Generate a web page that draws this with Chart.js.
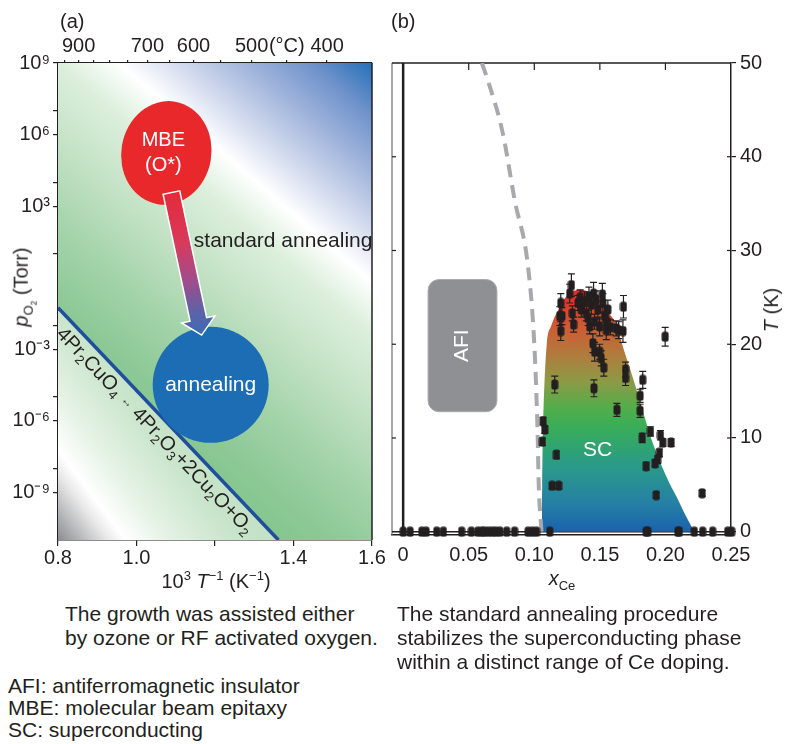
<!DOCTYPE html>
<html lang="en">
<head>
<meta charset="UTF-8">
<meta name="viewport" content="width=device-width, initial-scale=1.0">
<title>Growth window and phase diagram</title>
<script src="https://cdn.jsdelivr.net/npm/chart.js"></script>
<style>
    body { margin: 0; background: #fff; color: #231f20; font-family: 'Liberation Sans', Arial, Helvetica, sans-serif; }
    .page { position: relative; width: 787px; height: 744px; overflow: hidden; }
    canvas { position: absolute; top: 0; }
    #chart-a { left: 0; }
    #chart-b { left: 380px; }
    .lbl { position: absolute; white-space: nowrap; font-size: 20px; line-height: 24px; }
    .ctr { transform: translate(-50%, -50%); }
    .rot { transform: translate(-50%, -50%) rotate(-90deg); }
    .note { position: absolute; white-space: nowrap; font-size: 21px; line-height: 24px; }
    sup, sub { font-size: 65%; line-height: 0; }
</style>
</head>
<body>
<div class="page">
    <canvas id="chart-a" width="390" height="600"></canvas>
    <canvas id="chart-b" width="407" height="600"></canvas>

    <div class="lbl" style="left:60px; top:9px;">(a)</div>
    <div class="lbl" style="left:391px; top:9px;">(b)</div>
    <div class="lbl ctr" style="left:216px; top:581px;">10<sup>3</sup> <i>T</i><sup>−1</sup> (K<sup>−1</sup>)</div>
    <div class="lbl rot" style="left:21px; top:287px;"><i>p</i><sub>O<sub>2</sub></sub> (Torr)</div>
    <div class="lbl ctr" style="left:562px; top:578px;"><i>x</i><sub>Ce</sub></div>
    <div class="lbl rot" style="left:771px; top:310px;"><i>T</i> (K)</div>

    <div class="note" style="left:65px; top:602px;">The growth was assisted either<br>by ozone or RF activated oxygen.</div>
    <div class="note" style="left:397px; top:602px;">The standard annealing procedure<br>stabilizes the superconducting phase<br>within a distinct range of Ce doping.</div>
    <div class="note" style="left:8px; top:675px; line-height:22px;">AFI: antiferromagnetic insulator<br>MBE: molecular beam epitaxy<br>SC: superconducting</div>
</div>
<script>
    // ---------- panel (a): p_O2 vs 10^3/T ----------
    const invT = [0.8, 1.3616];                 // 10^3 T^-1 (K^-1)
    const pLine = [0.055, 1e-11];               // Torr, 4Pr2CuO4 <-> 4Pr2O3+2Cu2O+O2
    const invTTicks = [0.8, 1.0, 1.2, 1.4, 1.6];
    const invTLabels = ['0.8', '1.0', '', '1.4', '1.6'];
    const tempC = [950, 900, 850, 800, 750, 700, 650, 600, 550, 500, 450, 400];
    const tempLabels = ['', '900', '', '', '', '700', '', '600', '', '500', '(°C)', '400'];
    const pTicks = [1e9, 1e7, 1e6, 1e4, 1e3, 1e1, 1e-2, 1e-3, 1e-5, 1e-6, 1e-8, 1e-9];
    const pLabels = ['10⁹', '', '10⁶', '', '10³', '', '', '10⁻³', '', '10⁻⁶', '', '10⁻⁹'];

    // ---------- panel (b): T vs x_Ce ----------
    const xCeTicks = [0, 0.05, 0.10, 0.15, 0.20, 0.25];
    const xCeLabels = ['0', '0.05', '0.10', '0.15', '0.20', '0.25'];
    const tTicks = [0, 10, 20, 30, 40, 50];

    const domeX = [0.1057, 0.1060, 0.1065, 0.1075, 0.1095, 0.113, 0.117, 0.124, 0.1345, 0.145, 0.152, 0.157, 0.163, 0.167, 0.175, 0.1825, 0.189, 0.196, 0.203, 0.209, 0.2155, 0.222];
    const domeT = [0, 5, 10, 15, 20, 22, 23.3, 25, 25.8, 25.3, 24.3, 23.3, 22, 20, 16.5, 13, 10, 7.4, 5.2, 3.6, 1.7, 0];

    const afiX = [0.060, 0.064, 0.076, 0.085, 0.0953, 0.100, 0.1024, 0.1034, 0.1055];
    const afiT = [50, 48.4, 42.5, 35.4, 28.2, 20, 11.2, 5, 0];

    const zeroX = [0, 0.0053, 0.0142, 0.0175, 0.0256, 0.0307, 0.0446, 0.052, 0.057, 0.060, 0.062, 0.065, 0.068, 0.0707, 0.0738, 0.079, 0.085, 0.0953, 0.0985, 0.1017, 0.1118, 0.1853, 0.1866, 0.2094, 0.2106, 0.222, 0.2284, 0.236, 0.2475, 0.2505, 0.2535];

    const scX = [0.1283, 0.1270, 0.1202, 0.1194, 0.1211, 0.1202, 0.1290, 0.1300, 0.1333, 0.1350, 0.1359, 0.1384, 0.1397, 0.1417, 0.1410, 0.1435, 0.1452, 0.1422, 0.1460, 0.1470, 0.1485, 0.1498, 0.1519, 0.1523, 0.1536, 0.1549, 0.1550, 0.1561, 0.1580, 0.1447, 0.1460, 0.1498, 0.1510, 0.1530, 0.1455, 0.1156, 0.1625, 0.1643, 0.1676, 0.1680, 0.1696, 0.1696, 0.1827, 0.1807, 0.1807, 0.1630, 0.1998, 0.1067, 0.1080, 0.1062, 0.1169, 0.1886, 0.1823, 0.1962, 0.2043, 0.1980, 0.1954, 0.1941, 0.1921, 0.1853, 0.1930, 0.1136, 0.1186, 0.2280];
    const scT = [26.3, 25.4, 24.4, 23.0, 23.0, 21.4, 23.3, 22.1, 24.4, 25.0, 23.7, 24.6, 23.3, 25.1, 22.8, 24.2, 25.4, 21.9, 22.4, 24.8, 23.7, 21.9, 25.3, 24.4, 23.0, 21.5, 22.5, 23.7, 21.8, 20.1, 19.2, 19.2, 18.5, 17.5, 15.3, 15.7, 21.7, 21.5, 21.4, 24.0, 17.3, 16.4, 16.2, 14.5, 12.9, 13.0, 20.8, 11.8, 10.9, 9.6, 8.2, 10.7, 10.0, 10.3, 9.5, 9.5, 8.4, 7.7, 7.3, 7.0, 3.9, 4.9, 4.9, 4.1];
    const scErr = [1.2, 1.0, 1.0, 1.0, 0.9, 1.0, 0.8, 0.8, 0.8, 0.8, 0.8, 1.0, 0.8, 1.0, 0.8, 1.0, 1.2, 0.8, 0.8, 0.9, 1.0, 1.0, 1.2, 1.0, 1.0, 1.0, 0.9, 1.0, 0.8, 1.0, 1.0, 0.8, 0.8, 0.9, 0.9, 0.9, 0.8, 0.9, 1.2, 1.2, 0.8, 0.8, 0.9, 0.7, 0.7, 0.7, 1.0, 0.4, 0.4, 0.4, 0.4, 0.5, 0.5, 0.5, 0.4, 0.4, 0.4, 0.4, 0.4, 0.4, 0.3, 0.3, 0.3, 0.3];

    // annotation anchors (data coordinates)
    const spotsA = {
        mbe: { x: 1.076, p: 1.7e5 },
        arrowFrom: { x: 1.089, p: 3.7e3 },
        arrowTo: { x: 1.166, p: 3.9e-3 },
        anneal: { x: 1.189, p: 3.2e-5 },
        standard: { x: 1.146, p: 33 }
    };
    const spotsB = {
        afi: { x0: 0.019, x1: 0.0715, t0: 12.8, t1: 26.9 },
        sc: { x: 0.1483, t: 8.7 }
    };

    const INK = '#231f20';
    const FONT = "'Liberation Sans', Arial, Helvetica, sans-serif";
    Chart.defaults.font.family = FONT;
    Chart.defaults.font.size = 20;
    Chart.defaults.color = INK;

    // ---------- panel (a) drawing helpers ----------
    function gradientAlong(ctx, ox, oy, nx, ny, stops) {
        const s0 = stops[0][0], s1 = stops[stops.length - 1][0];
        const g = ctx.createLinearGradient(ox + nx * s0, oy + ny * s0, ox + nx * s1, oy + ny * s1);
        stops.forEach(([s, c]) => g.addColorStop((s - s0) / (s1 - s0), c));
        return g;
    }

    function richText(ctx, parts, x, y) {
        let cx = x;
        parts.forEach(([txt, kind]) => {
            if (kind === 'sub') { ctx.font = '13px ' + FONT; ctx.fillText(txt, cx, y + 6); }
            else if (kind === 'small') { ctx.font = '12px ' + FONT; ctx.fillText(txt, cx, y); }
            else { ctx.font = '20px ' + FONT; ctx.fillText(txt, cx, y); }
            cx += ctx.measureText(txt).width;
        });
    }

    const panelA = {
        id: 'panelA',
        beforeDatasetsDraw(chart) {
            const { ctx, chartArea: a } = chart;
            const pts = chart.getDatasetMeta(0).data;
            const p0 = pts[0], p1 = pts[pts.length - 1];
            ctx.save();
            // oxidising side of the line
            ctx.beginPath();
            ctx.moveTo(a.left, a.top); ctx.lineTo(a.right, a.top); ctx.lineTo(a.right, a.bottom);
            ctx.lineTo(p1.x, p1.y); ctx.lineTo(p0.x, p0.y); ctx.closePath();
            ctx.fillStyle = gradientAlong(ctx, p0.x, p0.y, 0.655, -0.756, [
                [-40, '#84c58d'], [0, '#8bc895'], [60, '#a3d3a9'], [120, '#c1e1c3'], [185, '#dcefdc'],
                [225, '#ffffff'], [262, '#d4dcee'], [305, '#a3b6dc'], [350, '#6f92cb'], [395, '#1b6cb6']
            ]);
            ctx.fill();
            // reducing side
            ctx.beginPath();
            ctx.moveTo(p0.x, p0.y); ctx.lineTo(p1.x, p1.y); ctx.lineTo(a.left, a.bottom); ctx.closePath();
            ctx.fillStyle = gradientAlong(ctx, a.left, a.bottom, 0.8, -0.6, [
                [0, '#8b8c90'], [20, '#b9babc'], [40, '#e8e8e8'], [54, '#ffffff'], [90, '#e4f2e4'], [140, '#c9e5cb'], [185, '#c0e0c3']
            ]);
            ctx.fill();
            ctx.restore();
        },
        afterDatasetsDraw(chart) {
            const { ctx, scales: { x, y } } = chart;
            const pt = s => [x.getPixelForValue(s.x), y.getPixelForValue(s.p)];
            const pts = chart.getDatasetMeta(0).data;
            const p0 = pts[0], p1 = pts[pts.length - 1];
            ctx.save();

            // reaction label along the decomposition line
            const ang = Math.atan2(p1.y - p0.y, p1.x - p0.x);
            ctx.save();
            ctx.translate(p0.x, p0.y);
            ctx.rotate(ang);
            ctx.fillStyle = INK;
            ctx.textBaseline = 'middle';
            ctx.textAlign = 'left';
            richText(ctx, [['4Pr'], ['2', 'sub'], ['CuO'], ['4', 'sub'], [' '], ['↔', 'small'], [' '], ['4Pr'], ['2', 'sub'], ['O'], ['3', 'sub'],
                ['+2Cu'], ['2', 'sub'], ['O+O'], ['2', 'sub']], 18, 15);
            ctx.restore();

            // MBE ellipse
            const [mx, my] = pt(spotsA.mbe);
            ctx.fillStyle = '#e8282b';
            ctx.beginPath();
            ctx.ellipse(mx, my, 45, 52, 0.17, 0, Math.PI * 2);
            ctx.fill();
            ctx.fillStyle = '#fff';
            ctx.font = '20px ' + FONT;
            ctx.textAlign = 'center';
            ctx.textBaseline = 'middle';
            ctx.fillText('MBE', mx - 3, my - 12);
            ctx.fillText('(O*)', mx - 3, my + 13);

            // annealing circle
            const [cx, cy] = pt(spotsA.anneal);
            ctx.fillStyle = '#1c6db4';
            ctx.beginPath();
            ctx.arc(cx, cy, 58, 0, Math.PI * 2);
            ctx.fill();
            ctx.fillStyle = '#fff';
            ctx.font = '21px ' + FONT;
            ctx.fillText('annealing', cx, cy);

            // arrow MBE -> annealing
            const [ax0, ay0] = pt(spotsA.arrowFrom);
            const [ax1, ay1] = pt(spotsA.arrowTo);
            const len = Math.hypot(ax1 - ax0, ay1 - ay0);
            ctx.save();
            ctx.translate(ax0, ay0);
            ctx.rotate(Math.atan2(ay1 - ay0, ax1 - ax0));
            const g = ctx.createLinearGradient(0, 0, len, 0);
            g.addColorStop(0, '#e42a3a');
            g.addColorStop(0.35, '#d83a5b');
            g.addColorStop(0.62, '#a04d8d');
            g.addColorStop(0.85, '#5a63a9');
            g.addColorStop(1, '#3a6cb6');
            const sw = 8.5, hw = 17, hl = 16;
            ctx.beginPath();
            ctx.moveTo(0, -sw); ctx.lineTo(len - hl, -sw); ctx.lineTo(len - hl, -hw); ctx.lineTo(len, 0);
            ctx.lineTo(len - hl, hw); ctx.lineTo(len - hl, sw); ctx.lineTo(0, sw); ctx.closePath();
            ctx.fillStyle = g;
            ctx.fill();
            ctx.strokeStyle = '#fff';
            ctx.lineWidth = 1.5;
            ctx.stroke();
            ctx.restore();

            // standard annealing label
            const [sx, sy] = pt(spotsA.standard);
            ctx.fillStyle = INK;
            ctx.font = '21px ' + FONT;
            ctx.textAlign = 'left';
            ctx.fillText('standard annealing', sx, sy);
            ctx.restore();
        },
        afterDraw(chart) {
            const { ctx, chartArea: a } = chart;
            ctx.save();
            ctx.strokeStyle = INK;
            ctx.lineWidth = 1.5;
            ctx.beginPath();
            ctx.moveTo(a.right, a.top); ctx.lineTo(a.right, a.bottom);
            ctx.stroke();
            ctx.restore();
        }
    };

    new Chart(document.getElementById('chart-a'), {
        type: 'line',
        data: {
            datasets: [{
                data: invT.map((v, i) => ({ x: v, y: pLine[i] })),
                borderColor: '#1f4e9e',
                borderWidth: 3.5,
                pointRadius: 0,
                fill: false
            }]
        },
        options: {
            responsive: false,
            animation: false,
            layout: { padding: { right: 18 } },
            plugins: { legend: { display: false }, tooltip: { enabled: false } },
            scales: {
                x: {
                    type: 'linear', position: 'bottom', min: 0.8, max: 1.6,
                    afterBuildTicks: s => { s.ticks = invTTicks.map(v => ({ value: v })); },
                    afterFit: s => { s.height = 60; },
                    ticks: { callback: (v, i) => invTLabels[i], maxRotation: 0, autoSkip: false, padding: 0 },
                    grid: { drawOnChartArea: false, tickLength: 6, color: INK, lineWidth: 1.2 },
                    border: { color: INK, width: 1.5 }
                },
                xT: {
                    type: 'linear', position: 'top', min: 0.8, max: 1.6,
                    afterBuildTicks: s => { s.ticks = tempC.map(c => ({ value: 1000 / (c + 273.15) })); },
                    afterFit: s => { s.height = 63; },
                    ticks: { callback: (v, i) => tempLabels[i], maxRotation: 0, autoSkip: false, padding: 2 },
                    grid: { drawOnChartArea: false, tickLength: 3, color: INK, lineWidth: 1.2 },
                    border: { color: INK, width: 1.5 }
                },
                y: {
                    type: 'logarithmic', position: 'left', min: 1e-11, max: 1e9,
                    afterBuildTicks: s => { s.ticks = pTicks.map(v => ({ value: v })); },
                    afterFit: s => { s.width = 58; },
                    ticks: { callback: (v, i) => pLabels[i], autoSkip: false, padding: 3 },
                    grid: { drawOnChartArea: false, tickLength: 5, color: INK, lineWidth: 1.2 },
                    border: { color: INK, width: 1.5 }
                }
            }
        },
        plugins: [panelA]
    });

    // ---------- panel (b) ----------
    const marker = document.createElement('canvas');
    marker.width = 8;
    marker.height = 11;
    const mctx = marker.getContext('2d');
    mctx.fillStyle = INK;
    mctx.beginPath();
    mctx.roundRect(0.5, 0.5, 7, 10, 2.5);
    mctx.fill();

    const domeStops = [[0, '#1b62ad'], [3, '#2580a5'], [7, '#2a9a88'], [11, '#37ad5a'], [13, '#4fae4c'],
        [16, '#8c9a45'], [19, '#b27a3c'], [22, '#cf5a32'], [24.5, '#e0382a'], [26, '#e5232a']];

    const frameB = {
        id: 'frameB',
        beforeDatasetsDraw(chart) {
            const { ctx, chartArea: a, scales: { x, y } } = chart;
            const x0 = x.getPixelForValue(0), y0 = y.getPixelForValue(0);
            ctx.save();
            ctx.strokeStyle = '#6d6e71';
            ctx.lineWidth = 1.2;
            ctx.beginPath(); ctx.moveTo(a.left, a.top); ctx.lineTo(a.left, a.bottom); ctx.stroke();
            ctx.strokeStyle = INK;
            ctx.lineWidth = 1.5;
            ctx.beginPath(); ctx.moveTo(a.left, a.top); ctx.lineTo(a.right, a.top); ctx.stroke();
            ctx.beginPath(); ctx.moveTo(a.left, y0); ctx.lineTo(a.right, y0); ctx.stroke();
            ctx.lineWidth = 2.5;
            ctx.beginPath(); ctx.moveTo(x0, a.top); ctx.lineTo(x0, y0); ctx.stroke();
            // inward tick marks
            ctx.lineWidth = 1.2;
            xCeTicks.slice(1, -1).forEach(v => {
                const px = x.getPixelForValue(v);
                ctx.beginPath(); ctx.moveTo(px, a.top); ctx.lineTo(px, a.top + 7); ctx.stroke();
            });
            tTicks.slice(1, -1).forEach(v => {
                const py = y.getPixelForValue(v);
                ctx.beginPath(); ctx.moveTo(a.left, py); ctx.lineTo(a.left + 4, py); ctx.stroke();
                ctx.beginPath(); ctx.moveTo(a.right, py); ctx.lineTo(a.right - 4, py); ctx.stroke();
            });
            ctx.restore();
        },
        beforeDatasetDraw(chart, args) {
            if (args.index !== 3) return;
            const { ctx, scales: { y } } = chart;
            ctx.save();
            ctx.strokeStyle = INK;
            ctx.lineWidth = 1.2;
            args.meta.data.forEach((el, i) => {
                const top = y.getPixelForValue(scT[i] + scErr[i]);
                const bot = y.getPixelForValue(scT[i] - scErr[i]);
                ctx.beginPath();
                ctx.moveTo(el.x, top); ctx.lineTo(el.x, bot);
                ctx.moveTo(el.x - 3.5, top); ctx.lineTo(el.x + 3.5, top);
                ctx.moveTo(el.x - 3.5, bot); ctx.lineTo(el.x + 3.5, bot);
                ctx.stroke();
            });
            ctx.restore();
        },
        afterDatasetsDraw(chart) {
            const { ctx, scales: { x, y } } = chart;
            const b = spotsB.afi;
            const l = x.getPixelForValue(b.x0), r = x.getPixelForValue(b.x1);
            const t = y.getPixelForValue(b.t1), btm = y.getPixelForValue(b.t0);
            ctx.save();
            ctx.fillStyle = '#8f9093';
            ctx.strokeStyle = '#a9aaac';
            ctx.lineWidth = 1;
            ctx.beginPath();
            ctx.roundRect(l, t, r - l, btm - t, 11);
            ctx.fill();
            ctx.stroke();
            ctx.fillStyle = '#fff';
            ctx.font = '21px ' + FONT;
            ctx.textAlign = 'center';
            ctx.textBaseline = 'middle';
            ctx.save();
            ctx.translate((l + r) / 2, (t + btm) / 2);
            ctx.rotate(-Math.PI / 2);
            ctx.fillText('AFI', 0, 0);
            ctx.restore();
            ctx.fillText('SC', x.getPixelForValue(spotsB.sc.x), y.getPixelForValue(spotsB.sc.t));
            ctx.restore();
        }
    };

    new Chart(document.getElementById('chart-b'), {
        type: 'line',
        data: {
            datasets: [
                {
                    label: 'SC dome',
                    data: domeX.map((v, i) => ({ x: v, y: domeT[i] })),
                    fill: 'origin',
                    backgroundColor: c => {
                        const ch = c.chart;
                        if (!ch.chartArea) return null;
                        const ys = ch.scales.y;
                        const top = domeStops[domeStops.length - 1][0];
                        const g = ch.ctx.createLinearGradient(0, ys.getPixelForValue(0), 0, ys.getPixelForValue(top));
                        domeStops.forEach(([t, col]) => g.addColorStop(t / top, col));
                        return g;
                    },
                    borderWidth: 0,
                    pointRadius: 0,
                    cubicInterpolationMode: 'monotone',
                    order: 4
                },
                {
                    label: 'AFI boundary',
                    data: afiX.map((v, i) => ({ x: v, y: afiT[i] })),
                    borderColor: '#a7a9ac',
                    borderWidth: 4,
                    borderDash: [13, 8],
                    pointRadius: 0,
                    fill: false,
                    cubicInterpolationMode: 'monotone',
                    order: 3
                },
                {
                    label: 'non-SC films',
                    data: zeroX.map(v => ({ x: v, y: 0 })),
                    showLine: false,
                    pointStyle: marker,
                    pointRadius: 4,
                    clip: false,
                    order: 2
                },
                {
                    label: 'Tc',
                    data: scX.map((v, i) => ({ x: v, y: scT[i] })),
                    showLine: false,
                    pointStyle: marker,
                    pointRadius: 4,
                    order: 1
                }
            ]
        },
        options: {
            responsive: false,
            animation: false,
            layout: { padding: { left: 12, top: 63 } },
            plugins: { legend: { display: false }, tooltip: { enabled: false } },
            scales: {
                x: {
                    type: 'linear', position: 'bottom', min: -0.0085, max: 0.25,
                    afterBuildTicks: s => { s.ticks = xCeTicks.map(v => ({ value: v })); },
                    afterFit: s => { s.height = 65; },
                    ticks: { callback: (v, i) => xCeLabels[i], maxRotation: 0, autoSkip: false, padding: 8 },
                    grid: { display: false, drawTicks: false },
                    border: { display: true, color: INK, width: 1.5 }
                },
                y: {
                    type: 'linear', position: 'right', min: -0.35, max: 50,
                    afterBuildTicks: s => { s.ticks = tTicks.map(v => ({ value: v })); },
                    afterFit: s => { s.width = 56; },
                    ticks: { padding: 4 },
                    grid: { drawOnChartArea: false, tickLength: 5, color: INK, lineWidth: 1.2 },
                    border: { color: INK, width: 1.5 }
                }
            }
        },
        plugins: [frameB]
    });
</script>
</body>
</html>
